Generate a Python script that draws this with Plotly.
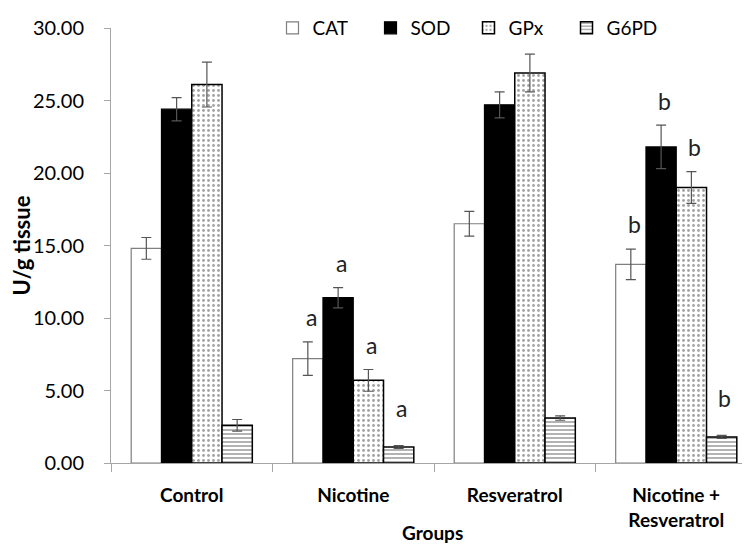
import plotly.graph_objects as go

groups = ["Control", "Nicotine", "Resveratrol", "Nicotine +<br>Resveratrol"]
enzymes = ["CAT", "SOD", "GPx", "G6PD"]

# means per enzyme, one value per group
cat = [14.8, 7.2, 16.5, 13.7]
sod = [24.4, 11.4, 24.7, 21.8]
gpx = [26.1, 5.7, 26.9, 19.0]
g6pd = [2.6, 1.1, 3.1, 1.8]

# error bars (SE)
cat_err = [0.75, 1.15, 0.85, 1.05]
sod_err = [0.8, 0.7, 0.9, 1.5]
gpx_err = [1.55, 0.75, 1.3, 1.1]
g6pd_err = [0.4, 0.1, 0.15, 0.1]

# significance letters: group index -> letter
letters = {1: "a", 3: "b"}

values = [cat, sod, gpx, g6pd]
errors = [cat_err, sod_err, gpx_err, g6pd_err]

styles = [
    dict(color="white", line=dict(color="#7f7f7f", width=1.2)),
    dict(color="black", line=dict(color="black", width=1.2)),
    dict(color="white", line=dict(color="black", width=1.5),
         pattern=dict(shape=".", fgcolor="#444444", size=5, solidity=0.25)),
    dict(color="white", line=dict(color="black", width=1.5),
         pattern=dict(shape="-", fgcolor="black", size=4, solidity=0.3)),
]

fig = go.Figure()
for name, v, e, st in zip(enzymes, values, errors, styles):
    fig.add_trace(go.Bar(
        x=groups, y=v, name=name, marker=st,
        error_y=dict(type="data", array=e, color="#555555", thickness=1.2, width=5),
    ))

# letters sit above the error bar of each bar in the marked groups
gap = 0.25
bw = (1 - gap) / len(enzymes)
for gi, letter in letters.items():
    for k in range(len(enzymes)):
        xoff = -(1 - gap) / 2 + bw * (k + 0.5)
        top = values[k][gi] + errors[k][gi]
        lift = 2.6 if k == 3 else 1.7
        fig.add_annotation(x=gi + xoff + 0.02, y=top + lift, xref="x", yref="y",
                           text=letter, showarrow=False,
                           font=dict(size=23, color="#222222"))

fig.add_annotation(x=0.498, y=-0.19, xref="paper", yref="paper", text="<b>Groups</b>",
                   showarrow=False, font=dict(size=19, color="black"))

fig.update_layout(
    width=750, height=549,
    margin=dict(l=103, r=1, t=14, b=94),
    paper_bgcolor="white", plot_bgcolor="white",
    barmode="group", bargap=gap, bargroupgap=0,
    font=dict(family="Lato, DejaVu Sans, sans-serif", color="black"),
    legend=dict(orientation="h", x=0.25, y=1.0, xanchor="left", yanchor="middle",
                font=dict(size=19), entrywidth=53, traceorder="normal",
                bgcolor="rgba(0,0,0,0)"),
)
fig.update_xaxes(
    type="category", showline=True, linecolor="#a6a6a6", linewidth=1,
    ticks="outside", tickson="boundaries", ticklen=8, tickcolor="#a6a6a6",
    tickfont=dict(size=19, color="black"), ticklabelstandoff=15,
    showgrid=False, tickprefix="<b>", ticksuffix="</b>",
)
fig.update_yaxes(
    range=[0, 30], dtick=5, tickformat=".2f", showline=True, linecolor="#a6a6a6",
    linewidth=1, ticks="outside", ticklen=6, tickcolor="#a6a6a6", showgrid=False,
    tickfont=dict(size=20, color="black"), zeroline=False, ticklabelstandoff=16,
    title=dict(text="<b>U/g tissue</b>", font=dict(size=22), standoff=8),
)

fig.write_html("out.html")
